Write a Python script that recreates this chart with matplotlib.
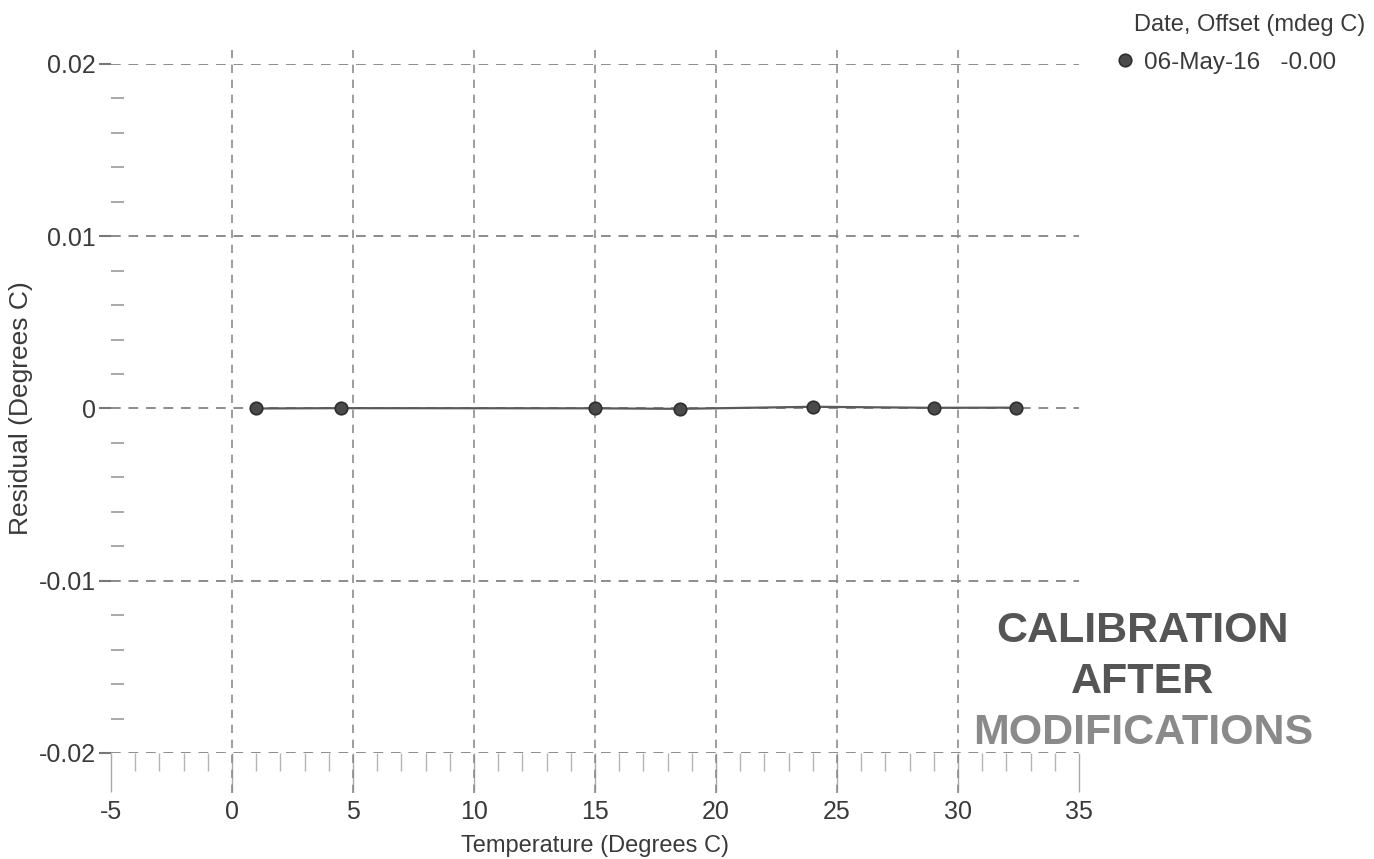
import matplotlib
matplotlib.use("Agg")
import matplotlib.pyplot as plt
from matplotlib.ticker import MultipleLocator

plt.rcParams['font.family'] = ['Liberation Sans', 'DejaVu Sans']

# Data
temperatures = [1.0, 4.5, 15.0, 18.5, 24.0, 29.0, 32.4]
residuals = [0.0, 0.00002, 0.00001, -0.00002, 0.0001, 0.00004, 0.00005]
series_label = "06-May-16   -0.00"
legend_title = "Date, Offset (mdeg C)"
x_ticks = [-5, 0, 5, 10, 15, 20, 25, 30, 35]
y_ticks = [-0.02, -0.01, 0, 0.01, 0.02]
y_tick_labels = ["-0.02", "-0.01", "0", "0.01", "0.02"]
annotation_lines = ["CALIBRATION", "AFTER", "MODIFICATIONS"]

text_color = "#3a3a3a"
grid_color = "#8c8c8c"

fig = plt.figure(figsize=(13.74, 8.59), dpi=100)
ax = fig.add_axes([0.0808, 0.1234, 0.7045, 0.8021])
ax.set_xlim(-5, 35)
ax.set_ylim(-0.02, 0.02)

for s in ax.spines.values():
    s.set_visible(False)

ax.set_xticks(x_ticks)
ax.set_xticklabels([str(t) for t in x_ticks])
ax.set_yticks(y_ticks)
ax.set_yticklabels(y_tick_labels)
ax.xaxis.set_minor_locator(MultipleLocator(1))
ax.yaxis.set_minor_locator(MultipleLocator(0.002))

ax.tick_params(axis='x', which='major', direction='out', length=28, width=1,
               color="#aaaaaa", labelsize=18, labelcolor=text_color, pad=6)
ax.tick_params(axis='x', which='minor', direction='out', length=13, width=1,
               color="#b5b5b5")
ax.tick_params(axis='y', which='major', direction='out', length=9, width=1.5,
               color="#777777", labelsize=18, labelcolor=text_color, pad=2)
ax.tick_params(axis='y', which='minor', direction='in', length=9, width=1.2,
               color="#999999")

# horizontal grid lines
ax.yaxis.grid(True, which='major', linestyle=(0, (5, 4)), color=grid_color, linewidth=1.4)
# vertical grid lines extending slightly beyond the plot area
for xv in x_ticks[1:-1]:
    ax.plot([xv, xv], [-0.058, 1.02], transform=ax.get_xaxis_transform(),
            linestyle=(0, (5, 4)), color=grid_color, linewidth=1.2, clip_on=False, zorder=1)
ax.set_axisbelow(True)

ax.plot(temperatures, residuals, color="#5a5a5a", linewidth=1.6, marker='o',
        markersize=9, markerfacecolor="#4a4a4a", markeredgecolor="#2e2e2e",
        markeredgewidth=1.2, label=series_label, zorder=3)

ax.set_xlabel("Temperature (Degrees C)", fontsize=17, color=text_color, labelpad=8)
ax.set_ylabel("Residual (Degrees C)", fontsize=19, color=text_color)
ax.yaxis.set_label_coords(-0.081, 0.5)

leg = fig.legend(loc='center left', bbox_to_anchor=(0.8134, 0.9267),
                 bbox_transform=fig.transFigure, frameon=False,
                 fontsize=17.5, borderpad=0, borderaxespad=0,
                 handlelength=0.6, handletextpad=0.5, labelcolor=text_color)
for h in leg.legend_handles:
    h.set_linestyle('none')
fig.text(0.9935, 0.971, legend_title, fontsize=17, color=text_color,
         ha='right', va='center')

colors = ["#555555", "#555555", "#8a8a8a"]
ys = [0.2654, 0.2060, 0.1467]
for line, c, yy in zip(annotation_lines, colors, ys):
    fig.text(0.8318, yy, line, fontsize=31, fontweight='bold', color=c,
             ha='center', va='center')

fig.savefig("out.png", dpi=100, facecolor="white")
